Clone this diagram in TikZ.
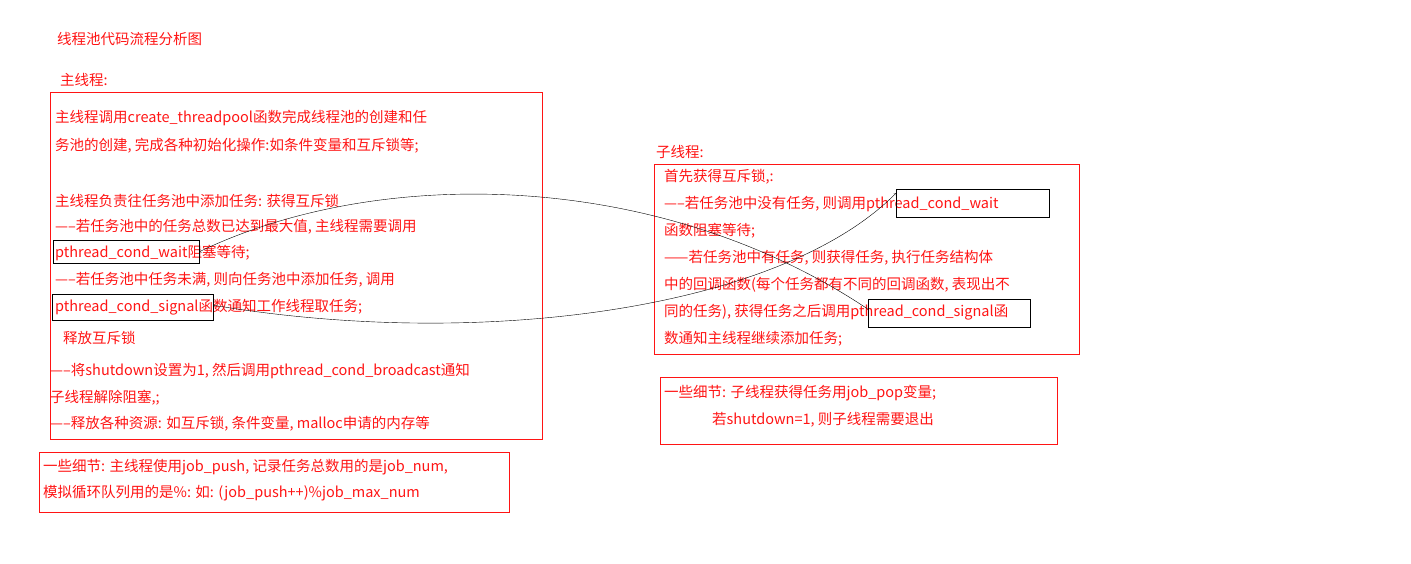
\documentclass[tikz,border=0pt]{standalone}
\usepackage{fontspec}
\setmainfont{Noto Sans CJK SC}
\definecolor{txtred}{RGB}{255, 20, 20}

\begin{document}
\begin{tikzpicture}[x=1pt,y=-1pt,
  ln/.style={anchor=west, inner sep=0pt, text=txtred, font=\fontsize{14.5}{15}\selectfont},
  redbox/.style={draw=txtred, thin},
  callbox/.style={draw=black, thin, inner sep=0pt, anchor=north west},
  conn/.style={->, >=to, thin}]
\useasboundingbox (0,0) rectangle (1411,563);

% main thread
\node[ln] (title) at (57,39) {线程池代码流程分析图};
\node[ln] (mainlbl) at (60,80) {主线程:};
\draw[redbox] (50,92) rectangle (542,439);
\node[ln] (m1) at (55,118) {主线程调用create\_threadpool函数完成线程池的创建和任};
\node[ln] (m2) at (55,146) {务池的创建, 完成各种初始化操作:如条件变量和互斥锁等;};
\node[ln] (m3) at (55,201) {主线程负责往任务池中添加任务: 获得互斥锁};
\node[ln] (m4) at (55,227) {-----若任务池中的任务总数已达到最大值, 主线程需要调用};
\node[ln] (m5) at (55,253) {pthread\_cond\_wait阻塞等待;};
\node[ln] (m6) at (55,280) {-----若任务池中任务未满, 则向任务池中添加任务, 调用};
\node[ln] (m7) at (55,307) {pthread\_cond\_signal函数通知工作线程取任务;};
\node[ln] (m8) at (63,338) {释放互斥锁};
\node[ln] (m9) at (50,371) {-----将shutdown设置为1, 然后调用pthread\_cond\_broadcast通知};
\node[ln] (m10) at (50,398) {子线程解除阻塞,;};
\node[ln] (m11) at (50,424) {-----释放各种资源: 如互斥锁, 条件变量, malloc申请的内存等};
\node[callbox, minimum width=146pt, minimum height=23pt] (mwait) at (53,240) {};
\node[callbox, minimum width=161pt, minimum height=26pt] (msig) at (52,294) {};

% main details
\draw[redbox] (39,452) rectangle (509,512);
\node[ln] (md1) at (43,467) {一些细节: 主线程使用job\_push, 记录任务总数用的是job\_num,};
\node[ln] (md2) at (43,493) {模拟循环队列用的是\%: 如: (job\_push++)\%job\_max\_num};

% worker thread
\node[ln] (sublbl) at (656,152) {子线程:};
\draw[redbox] (654,164) rectangle (1079,354);
\node[ln] (s1) at (664,177) {首先获得互斥锁,:};
\node[ln] (s2) at (664,204) {-----若任务池中没有任务, 则调用pthread\_cond\_wait};
\node[ln] (s3) at (664,231) {函数阻塞等待;};
\node[ln] (s4) at (664,258) {------若任务池中有任务, 则获得任务, 执行任务结构体};
\node[ln] (s5) at (664,285) {中的回调函数(每个任务都有不同的回调函数, 表现出不};
\node[ln] (s6) at (664,312) {同的任务), 获得任务之后调用pthread\_cond\_signal函};
\node[ln] (s7) at (664,339) {数通知主线程继续添加任务;};
\node[callbox, minimum width=153pt, minimum height=28pt] (swait) at (896,189) {};
\node[callbox, minimum width=162pt, minimum height=28pt] (ssig) at (868,299) {};

% worker details
\draw[redbox] (660,377) rectangle (1057,444);
\node[ln] (sd1) at (664,393) {一些细节: 子线程获得任务用job\_pop变量;};
\node[ln] (sd2) at (712,420) {若shutdown=1, 则子线程需要退出};

% connectors
\draw[conn] ([yshift=4pt]ssig.west) .. controls (660,170) and (380,165) .. (mwait.east);
\draw[conn] ([yshift=2pt]msig.east) .. controls (480,350) and (780,310) .. ([yshift=10pt]swait.west);
\end{tikzpicture}
\end{document}
